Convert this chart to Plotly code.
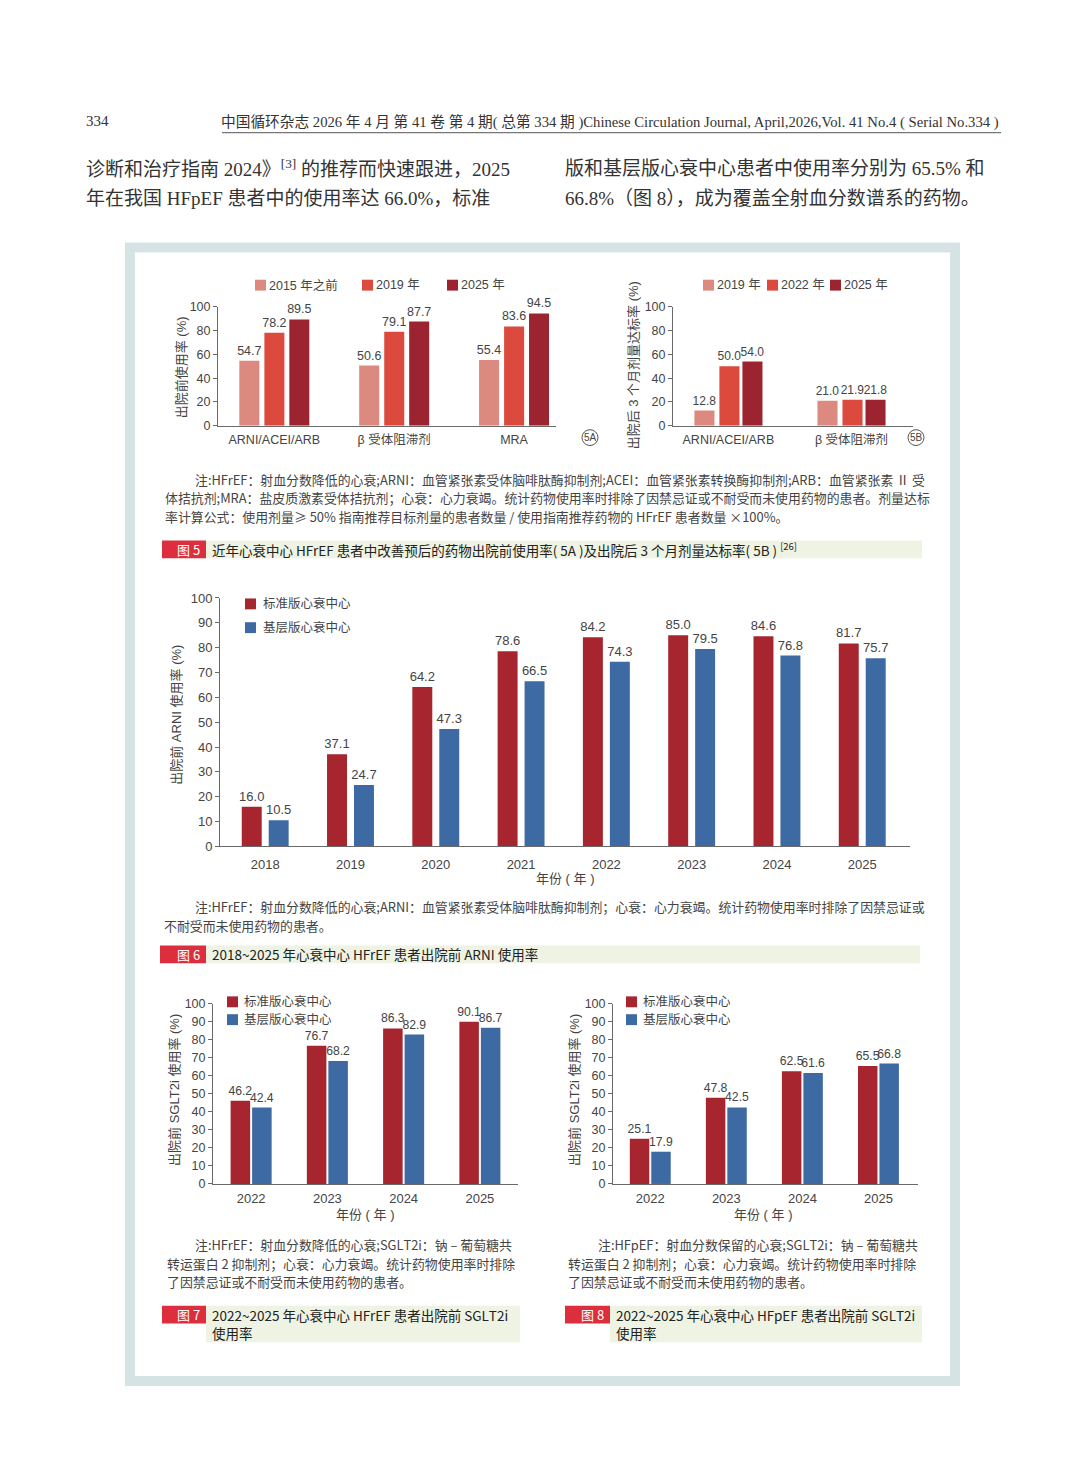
import plotly.graph_objects as go

W, H = 1080, 1482

# ---- data ----
drug_cats = ["ARNI/ACEI/ARB", "β 受体阻滞剂", "MRA"]
use_names = ["2015 年之前", "2019 年", "2025 年"]
use_pre2015 = [54.7, 50.6, 55.4]
use_2019 = [78.2, 79.1, 83.6]
use_2025 = [89.5, 87.7, 94.5]

dose_cats = ["ARNI/ACEI/ARB", "β 受体阻滞剂"]
dose_names = ["2019 年", "2022 年", "2025 年"]
dose_2019 = [12.8, 21.0]
dose_2022 = [50.0, 21.9]
dose_2025 = [54.0, 21.8]

center_names = ["标准版心衰中心", "基层版心衰中心"]
arni_years = ["2018", "2019", "2020", "2021", "2022", "2023", "2024", "2025"]
arni_std = [16.0, 37.1, 64.2, 78.6, 84.2, 85.0, 84.6, 81.7]
arni_base = [10.5, 24.7, 47.3, 66.5, 74.3, 79.5, 76.8, 75.7]

sglt_years = ["2022", "2023", "2024", "2025"]
hfref_std = [46.2, 76.7, 86.3, 90.1]
hfref_base = [42.4, 68.2, 82.9, 86.7]
hfpef_std = [25.1, 47.8, 62.5, 65.5]
hfpef_base = [17.9, 42.5, 61.6, 66.8]

# ---- styling ----
SANS = "Liberation Sans, Noto Sans CJK SC, sans-serif"
NARROW = "Liberation Sans Narrow, Liberation Sans, Noto Sans CJK SC, sans-serif"
CJK = "Noto Sans CJK SC, sans-serif"
SERIF = "Liberation Serif, Noto Sans CJK SC, serif"
C_LIGHT, C_MID, C_DARK = "#DC8A7F", "#DB4A3D", "#9C2431"
C_RED, C_BLUE = "#A6252E", "#3D6AA2"
TXT = "#444444"
AXC = "#6a6a6a"


def px(x):
    return x / W


def py(y):
    return 1 - y / H


fig = go.Figure()


def add_bars(xs, ys, name, color, ax, width, offset, font):
    fig.add_trace(go.Bar(
        x=xs, y=ys, name=name, marker=dict(color=color, line=dict(width=0)),
        xaxis="x" + ax, yaxis="y" + ax, showlegend=False,
        width=width, offset=offset,
        text=[f"{v:.1f}" for v in ys], textposition="outside", constraintext="none",
        textfont=font, cliponaxis=False, hoverinfo="x+y+name",
    ))


f5 = dict(size=12.5, color=TXT, family=SANS)
f5b = dict(size=12, color=TXT, family=SANS)
# 5A
add_bars(drug_cats, use_pre2015, use_names[0], C_LIGHT, "", 0.167, -0.292, f5)
add_bars(drug_cats, use_2019, use_names[1], C_MID, "", 0.167, -0.083, f5)
add_bars(drug_cats, use_2025, use_names[2], C_DARK, "", 0.167, 0.125, f5)
# 5B
add_bars(dose_cats, dose_2019, dose_names[0], C_LIGHT, "2", 0.163, -0.276, f5b)
add_bars(dose_cats, dose_2022, dose_names[1], C_MID, "2", 0.163, -0.073, f5b)
add_bars(dose_cats, dose_2025, dose_names[2], C_DARK, "2", 0.163, 0.114, f5b)
# 6
f6 = dict(size=13, color=TXT, family=NARROW)
add_bars(arni_years, arni_std, center_names[0], C_RED, "3", 0.234, -0.275, f6)
add_bars(arni_years, arni_base, center_names[1], C_BLUE, "3", 0.234, 0.041, f6)
# 7
f7 = dict(size=12.2, color=TXT, family=SANS)
add_bars(sglt_years, hfref_std, center_names[0], C_RED, "4", 0.256, -0.269, f7)
add_bars(sglt_years, hfref_base, center_names[1], C_BLUE, "4", 0.256, 0.013, f7)
# 8
add_bars(sglt_years, hfpef_std, center_names[0], C_RED, "5", 0.256, -0.269, f7)
add_bars(sglt_years, hfpef_base, center_names[1], C_BLUE, "5", 0.256, 0.013, f7)


def xaxis(x0, x1, rng, size, fam, standoff, anchor):
    return dict(domain=[px(x0), px(x1)], range=rng, type="category", showline=True,
                linecolor=AXC, linewidth=1, ticks="", showgrid=False, zeroline=False,
                tickfont=dict(size=size, color=TXT, family=fam), ticklabelstandoff=standoff,
                fixedrange=True, anchor=anchor)


def yaxis(y0, y1, dtick, size, fam, anchor):
    return dict(domain=[py(y1), py(y0)], range=[0, 100], dtick=dtick, showline=True,
                linecolor=AXC, linewidth=1, ticks="outside", ticklen=4, tickcolor=AXC,
                showgrid=False, zeroline=False, anchor=anchor,
                tickfont=dict(size=size, color=TXT, family=fam), fixedrange=True)


fig.update_layout(
    width=W, height=H, margin=dict(l=0, r=0, t=0, b=0),
    paper_bgcolor="white", plot_bgcolor="white", barmode="group", showlegend=False,
    xaxis=xaxis(218, 556, [-0.47, 2.35], 12.5, SANS, 2, "y"),
    yaxis=yaxis(303, 423, 20, 12.5, SANS, "x"),
    xaxis2=xaxis(673, 913, [-0.45, 1.5], 12.5, SANS, 2, "y2"),
    yaxis2=yaxis(303, 423, 20, 12.5, SANS, "x2"),
    xaxis3=xaxis(220, 910, [-0.53, 7.56], 13, NARROW, 6, "y3"),
    yaxis3=yaxis(597, 848, 10, 13, NARROW, "x3"),
    xaxis4=xaxis(213, 518, [-0.5, 3.5], 13, SANS, 2, "y4"),
    yaxis4=yaxis(1007, 1189, 10, 12.5, SANS, "x4"),
    xaxis5=xaxis(613, 918, [-0.49, 3.52], 13, SANS, 2, "y5"),
    yaxis5=yaxis(1007, 1189, 10, 12.5, SANS, "x5"),
)

# page frame
fig.add_shape(type="rect", xref="paper", yref="paper", x0=px(130), x1=px(955), y0=py(243), y1=py(1388),
              line=dict(color="#D5E3E5", width=10), fillcolor="white", layer="below")
# header rule
fig.add_shape(type="line", xref="paper", yref="paper", x0=px(222), x1=px(1001), y0=py(127), y1=py(127),
              line=dict(color="#555", width=1))


def txt(x, y, s, size, color=TXT, family=CJK, xanchor="left", angle=0):
    fig.add_annotation(x=px(x), y=py(y), xref="paper", yref="paper", text=s, showarrow=False,
                       xanchor=xanchor, yanchor="middle", textangle=angle,
                       font=dict(size=size, color=color, family=family))


def ytitle(x, y, s):
    txt(x, y, s, 13, TXT, SANS, "center", -90)


def key(x, y, name, color, gap, size=12.5):
    fig.add_shape(type="rect", xref="paper", yref="paper", x0=px(x), x1=px(x + 11),
                  y0=py(y + 5.5), y1=py(y - 5.5), line=dict(width=0), fillcolor=color)
    txt(x + 11 + gap, y, name, size, TXT, SANS)


# legends
for xk, nm, c in zip([255, 362, 447], use_names, [C_LIGHT, C_MID, C_DARK]):
    key(xk, 281, nm, c, 1)
for xk, nm, c in zip([703, 767, 830], dose_names, [C_LIGHT, C_MID, C_DARK]):
    key(xk, 281, nm, c, 1)
key(245, 603, center_names[0], C_RED, 5)
key(245, 627, center_names[1], C_BLUE, 5)
key(227, 1005, center_names[0], C_RED, 4)
key(227, 1023, center_names[1], C_BLUE, 4)
key(626, 1005, center_names[0], C_RED, 4)
key(626, 1023, center_names[1], C_BLUE, 4)

# header and body text
txt(84, 115, "334", 15, "#333", SERIF)
txt(1001, 116, "中国循环杂志 2026 年 4 月 第 41 卷 第 4 期( 总第 334 期 )Chinese Circulation Journal, April,2026,Vol. 41 No.4 ( Serial No.334 )",
    14.7, "#333", SERIF, "right")
txt(84, 163, "诊断和治疗指南 2024》<sup>[3]</sup> 的推荐而快速跟进，2025", 19, "#333", SERIF)
txt(84, 193, "年在我国 HFpEF 患者中的使用率达 66.0%，标准", 19, "#333", SERIF)
txt(563, 163, "版和基层版心衰中心患者中使用率分别为 65.5% 和", 19, "#333", SERIF)
txt(563, 193, "66.8%（图 8），成为覆盖全射血分数谱系的药物。", 19, "#333", SERIF)

# axis titles
ytitle(181, 364, "出院前使用率 (%)")
ytitle(633, 362, "出院后 3 个月剂量达标率 (%)")
ytitle(177, 715, "出院前 ARNI 使用率 (%)")
ytitle(175, 1094, "出院前 SGLT2i 使用率 (%)")
ytitle(575, 1094, "出院前 SGLT2i 使用率 (%)")
txt(565, 880, "年份 ( 年 )", 13, family=SANS, xanchor="center")
txt(365, 1220, "年份 ( 年 )", 13, family=SANS, xanchor="center")
txt(763, 1220, "年份 ( 年 )", 13, family=SANS, xanchor="center")

# panel tags
for cx, lab in [(590, "5A"), (916, "5B")]:
    fig.add_shape(type="circle", xref="paper", yref="paper", x0=px(cx - 8), x1=px(cx + 8),
                  y0=py(435 + 8), y1=py(435 - 8), line=dict(color="#555", width=1))
    txt(cx, 435, lab, 10, "#444", SANS, "center")

# notes
NOTE = 12.9
txt(193, 477, "注:HFrEF：射血分数降低的心衰;ARNI：血管紧张素受体脑啡肽酶抑制剂;ACEI：血管紧张素转换酶抑制剂;ARB：血管紧张素 Ⅱ 受", NOTE)
txt(163, 496, "体拮抗剂;MRA：盐皮质激素受体拮抗剂；心衰：心力衰竭。统计药物使用率时排除了因禁忌证或不耐受而未使用药物的患者。剂量达标", NOTE)
txt(163, 515, "率计算公式：使用剂量≥ 50% 指南推荐目标剂量的患者数量 / 使用指南推荐药物的 HFrEF 患者数量 ×100%。", NOTE)
txt(193, 909, "注:HFrEF：射血分数降低的心衰;ARNI：血管紧张素受体脑啡肽酶抑制剂；心衰：心力衰竭。统计药物使用率时排除了因禁忌证或", NOTE)
txt(162, 928, "不耐受而未使用药物的患者。", NOTE)
txt(193, 1250, "注:HFrEF：射血分数降低的心衰;SGLT2i：钠 – 葡萄糖共", NOTE)
txt(165, 1269, "转运蛋白 2 抑制剂；心衰：心力衰竭。统计药物使用率时排除", NOTE)
txt(165, 1288, "了因禁忌证或不耐受而未使用药物的患者。", NOTE)
txt(596, 1250, "注:HFpEF：射血分数保留的心衰;SGLT2i：钠 – 葡萄糖共", NOTE)
txt(566, 1269, "转运蛋白 2 抑制剂；心衰：心力衰竭。统计药物使用率时排除", NOTE)
txt(566, 1288, "了因禁忌证或不耐受而未使用药物的患者。", NOTE)


# figure captions
def caption(x0, xb, x1, y0, y1, label, lines):
    fig.add_shape(type="rect", xref="paper", yref="paper", x0=px(xb), x1=px(x1), y0=py(y1), y1=py(y0),
                  line=dict(width=0), fillcolor="#EEF3E3", layer="below")
    fig.add_shape(type="rect", xref="paper", yref="paper", x0=px(x0), x1=px(xb), y0=py(y0 + 18), y1=py(y0),
                  line=dict(width=0), fillcolor="#DD2E3E", layer="below")
    txt(xb - 4, y0 + 9, label, 13, "white", CJK, "right")
    for i, s in enumerate(lines):
        txt(xb + 4, y0 + 9 + 19 * i, s, 13.5, "#222", CJK)


caption(162, 206, 922, 539, 557, "图 5",
        ["近年心衰中心 HFrEF 患者中改善预后的药物出院前使用率( 5A )及出院后 3 个月剂量达标率( 5B ) <sup>[26]</sup>"])
caption(160, 206, 920, 948, 966, "图 6", ["2018~2025 年心衰中心 HFrEF 患者出院前 ARNI 使用率"])
caption(162, 206, 520, 1312, 1349, "图 7", ["2022~2025 年心衰中心 HFrEF 患者出院前 SGLT2i", "使用率"])
caption(565, 610, 922, 1312, 1349, "图 8", ["2022~2025 年心衰中心 HFpEF 患者出院前 SGLT2i", "使用率"])

fig.write_html("out.html", config={"displayModeBar": False},
               post_script="document.body.style.margin='0';document.body.style.overflow='hidden';")
